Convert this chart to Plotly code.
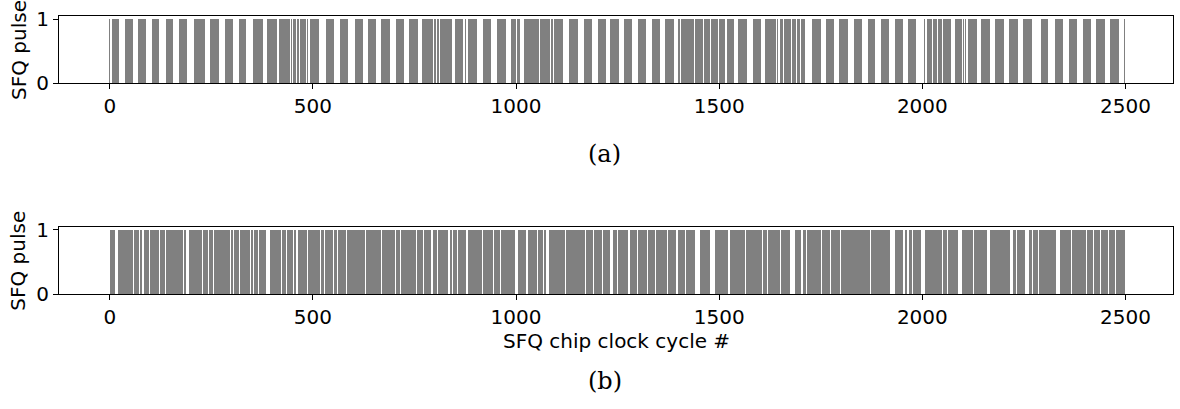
import plotly.graph_objects as go

# Pulse runs (first and last clock cycle of each run of consecutive 1s)
a_start = [0, 5, 37, 71, 105, 139, 172, 209, 247, 285, 318, 353, 388, 410, 417, 423, 447, 451, 462, 468,
           487, 494, 533, 568, 603, 636, 668, 704, 738, 769, 800, 808, 813, 840, 851, 876, 883, 919, 953,
           989, 1003, 1007, 1022, 1027, 1032, 1036, 1041, 1045, 1050, 1054, 1060, 1080, 1087, 1094, 1132,
           1168, 1201, 1232, 1266, 1301, 1335, 1368, 1401, 1406, 1431, 1436, 1441, 1464, 1469, 1474,
           1480, 1501, 1519, 1548, 1583, 1614, 1619, 1644, 1650, 1659, 1673, 1680, 1692, 1702, 1729, 1763,
           1796, 1832, 1866, 1898, 1932, 1966, 2006, 2013, 2029, 2034, 2038, 2051, 2080, 2101, 2106, 2114,
           2144, 2180, 2215, 2249, 2292, 2326, 2362, 2395, 2428, 2463, 2498]
a_end = [0, 21, 56, 88, 121, 156, 189, 235, 268, 303, 336, 377, 408, 410, 420, 443, 447, 459, 466, 482,
         487, 515, 551, 586, 622, 655, 689, 723, 758, 794, 800, 811, 837, 843, 869, 876, 904, 938, 974,
         1000, 1003, 1007, 1024, 1029, 1033, 1038, 1042, 1047, 1051, 1056, 1078, 1084, 1091, 1115, 1152,
         1186, 1220, 1253, 1286, 1320, 1355, 1389, 1402, 1427, 1432, 1437, 1460, 1465, 1470, 1476,
         1497, 1515, 1535, 1568, 1602, 1617, 1640, 1644, 1657, 1671, 1676, 1688, 1698, 1711, 1749, 1781,
         1816, 1850, 1883, 1917, 1952, 1985, 2006, 2024, 2029, 2034, 2049, 2069, 2097, 2101, 2106, 2133,
         2165, 2200, 2235, 2269, 2310, 2345, 2380, 2415, 2450, 2483, 2498]

b_start = [0, 20, 49, 59, 66, 75, 84, 99, 107, 125, 138, 152, 167, 182, 195, 224, 230, 244, 258, 269, 273,
           298, 306, 320, 348, 356, 367, 394, 418, 425, 436, 454, 463, 489, 520, 529, 552, 563, 585, 600,
           632, 671, 705, 718, 733, 756, 775, 796, 808, 837, 845, 857, 882, 919, 947, 964, 1005, 1029,
           1054, 1070, 1081, 1124, 1173, 1193, 1214, 1239, 1251, 1280, 1300, 1325, 1345, 1374, 1399, 1419,
           1453, 1491, 1526, 1567, 1608, 1620, 1653, 1686, 1706, 1716, 1754, 1776, 1800, 1823, 1852, 1874,
           1934, 1957, 1967, 1978, 2008, 2052, 2063, 2098, 2128, 2167, 2224, 2233, 2264, 2274, 2287, 2306,
           2339, 2370, 2406, 2424, 2440, 2461, 2477]
b_end = [12, 46, 56, 64, 72, 80, 96, 105, 121, 135, 149, 164, 179, 187, 221, 227, 241, 254, 267, 271, 295,
         303, 317, 345, 353, 365, 384, 415, 422, 433, 451, 459, 486, 517, 527, 550, 559, 582, 597, 627,
         668, 701, 715, 730, 753, 771, 791, 804, 833, 841, 853, 876, 915, 943, 960, 997, 1025, 1050,
         1066, 1074, 1120, 1169, 1189, 1210, 1230, 1248, 1275, 1296, 1321, 1341, 1370, 1394, 1415, 1440,
         1476, 1521, 1563, 1604, 1616, 1649, 1673, 1702, 1714, 1749, 1772, 1796, 1821, 1850, 1870, 1921,
         1952, 1962, 1975, 1996, 2049, 2059, 2088, 2124, 2159, 2216, 2231, 2253, 2270, 2284, 2303, 2328,
         2366, 2403, 2420, 2436, 2457, 2473, 2498]

x_ticks = [0, 500, 1000, 1500, 2000, 2500]
y_ticks = [0, 1]
pulse_level = 1

GRAY = "#808080"
FONT = "DejaVu Sans"
FS = 20


def runs_to_bars(starts, ends):
    centers = [(s + e) / 2 for s, e in zip(starts, ends)]
    widths = [e - s + 1 for s, e in zip(starts, ends)]
    heights = [pulse_level] * len(starts)
    return centers, widths, heights


fig = go.Figure()
for starts, ends, xa, ya in [(a_start, a_end, "x", "y"), (b_start, b_end, "x2", "y2")]:
    cx, w, h = runs_to_bars(starts, ends)
    fig.add_trace(go.Bar(x=cx, y=h, width=w, marker=dict(color=GRAY, line=dict(width=0)),
                         xaxis=xa, yaxis=ya, showlegend=False, hoverinfo="skip"))

axis_common = dict(range=[-125, 2617], tickvals=x_ticks, ticks="outside", ticklen=5, tickwidth=1,
                   tickcolor="black", showline=True, linecolor="black", linewidth=1, mirror=True,
                   showgrid=False, zeroline=False, tickfont=dict(family=FONT, size=FS, color="black"))
yaxis_common = dict(range=[0, 1.05], tickvals=y_ticks, ticks="outside", ticklen=5, tickwidth=1,
                    tickcolor="black", showline=True, linecolor="black", linewidth=1, mirror=True,
                    showgrid=False, zeroline=False, tickfont=dict(family=FONT, size=FS, color="black"))

fig.update_layout(
    width=1180, height=409,
    margin=dict(l=59, r=7, t=16, b=115),
    paper_bgcolor="white", plot_bgcolor="white",
    xaxis=dict(domain=[0, 1], anchor="y", **axis_common),
    yaxis=dict(domain=[0.758, 1], anchor="x", **yaxis_common),
    xaxis2=dict(domain=[0, 1], anchor="y2", **axis_common),
    yaxis2=dict(domain=[0, 0.242], anchor="x2", **yaxis_common),
    bargap=0,
)

annots = [
    dict(text="SFQ pulse", x=-0.0365, y=0.879, textangle=-90, font=dict(family=FONT, size=FS)),
    dict(text="SFQ pulse", x=-0.0365, y=0.121, textangle=-90, font=dict(family=FONT, size=FS)),
    dict(text="SFQ chip clock cycle #", x=0.5, y=-0.168, font=dict(family=FONT, size=FS)),
    dict(text="(a)", x=0.4897, y=0.504, font=dict(family="DejaVu Serif", size=24)),
    dict(text="(b)", x=0.4897, y=-0.313, font=dict(family="DejaVu Serif", size=24)),
]
for an in annots:
    fig.add_annotation(xref="paper", yref="paper", showarrow=False, xanchor="center", yanchor="middle",
                       **an)
for an in fig.layout.annotations:
    an.font.color = "black"

fig.write_html("out.html")
